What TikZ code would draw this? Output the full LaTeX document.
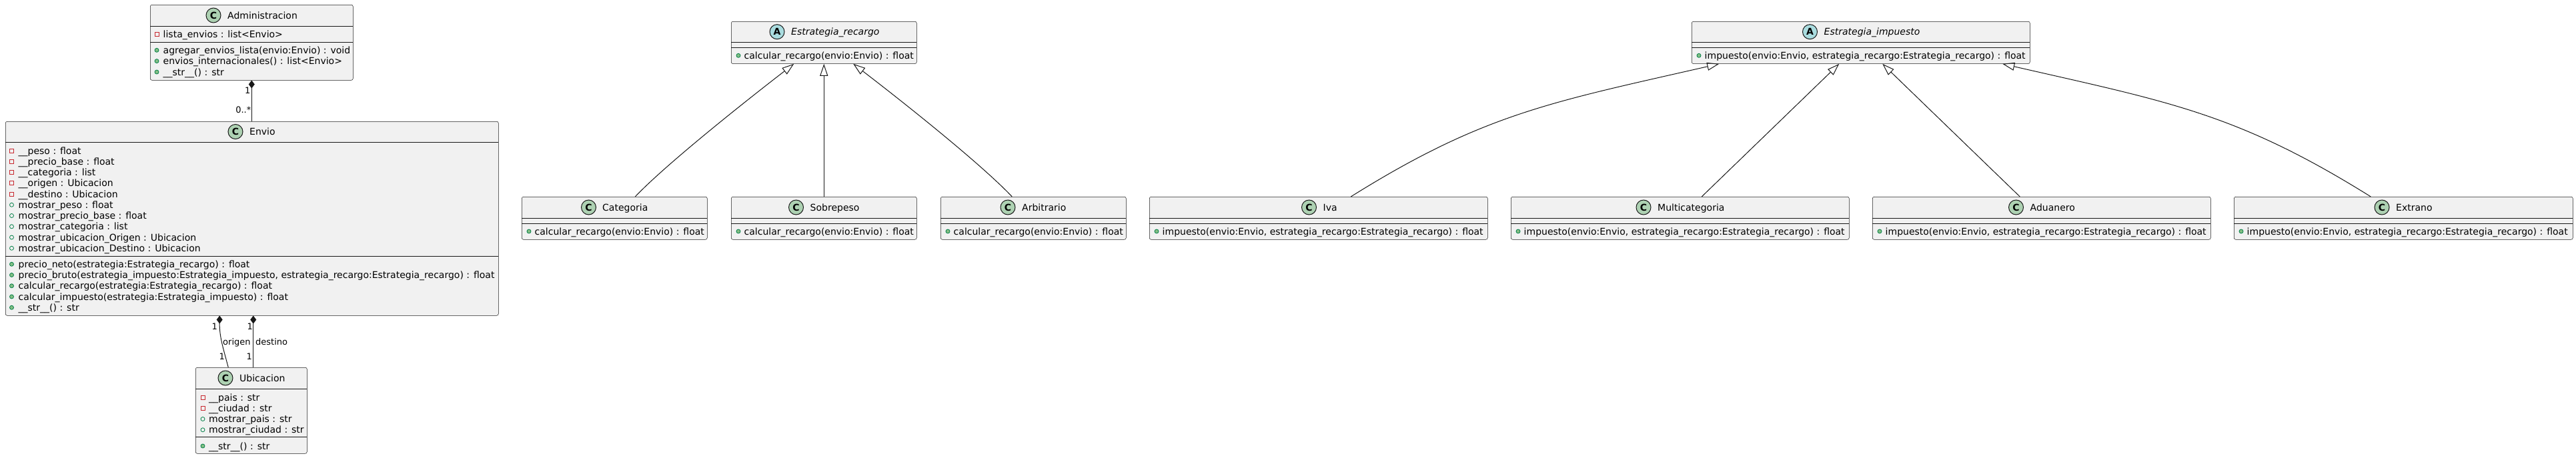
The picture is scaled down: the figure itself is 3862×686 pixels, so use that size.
\documentclass[tikz,border=0pt]{standalone}
\usepackage{fontspec}
\setmainfont{DejaVu Sans}
\usetikzlibrary{arrows.meta,calc}

\definecolor{boxfill}{HTML}{F1F1F1}
\definecolor{umlline}{HTML}{181818}
\definecolor{spotclass}{HTML}{ADD1B2}
\definecolor{spotabs}{HTML}{A9DCDF}
\definecolor{privred}{HTML}{C82930}
\definecolor{pubgreen}{HTML}{038048}
\definecolor{pubfill}{HTML}{84BE84}

\tikzset{
  classbox/.style={draw=umlline, fill=boxfill, line width=0.5pt, rounded corners=2.5pt, anchor=north west, inner sep=0pt},
  sep/.style={draw=umlline, line width=0.5pt},
  spot/.style={circle, draw=umlline, line width=1pt, minimum size=22pt, inner sep=0pt, font=\fontsize{14}{14}\selectfont\bfseries},
  spotc/.style={spot, fill=spotclass},
  spota/.style={spot, fill=spotabs},
  ttl/.style={anchor=base west, inner sep=0pt, font=\fontsize{14}{16}\selectfont},
  attl/.style={anchor=base west, inner sep=0pt, font=\fontsize{14}{16}\selectfont\itshape},
  mem/.style={anchor=base west, inner sep=0pt, font=\fontsize{14}{16}\selectfont},
  priv/.style={rectangle, draw=privred, line width=0.8pt, minimum size=6pt, inner sep=0pt},
  pubf/.style={circle, draw=pubgreen, line width=0.8pt, minimum size=6pt, inner sep=0pt},
  pubm/.style={pubf, fill=pubfill},
  comp/.style={draw=umlline, line width=1pt, {Diamond[length=12pt,width=9pt]}-},
  inh/.style={draw=umlline, line width=1pt, -{Triangle[open,length=18pt,width=12pt]}},
  lbl/.style={inner sep=0pt, font=\fontsize{13}{15}\selectfont},
}

\begin{document}
\begin{tikzpicture}[x=1pt,y=1pt,yscale=-1]
\useasboundingbox (0,0) rectangle (3862,686);

%Class Administracion
\node[classbox, minimum width=304, minimum height=113] (admin) at (225,7) {};
\draw[sep] (225,39) -- (529,39);
\draw[sep] (225,63) -- (529,63);
\node[spotc] (adminS) at (320,23) {C};
\node[ttl] (adminT) at (341,28) {Administracion};
\node[priv] (ad1i) at (235,51) {};
\node[mem] (ad1) at (244.5,56) {lista\_envios : list<Envio>};
\node[pubm] (ad2i) at (235,75.3) {};
\node[mem] (ad2) at (244.5,80.3) {agregar\_envios\_lista(envio:Envio) : void};
\node[pubm] (ad3i) at (235,91.6) {};
\node[mem] (ad3) at (244.5,96.6) {envios\_internacionales() : list<Envio>};
\node[pubm] (ad4i) at (235,108) {};
\node[mem] (ad4) at (244.5,113) {\_\_str\_\_() : str};

%Class Envio
\node[classbox, minimum width=739, minimum height=291] (envio) at (8,182) {};
\draw[sep] (8,213) -- (747,213);
\draw[sep] (8,384) -- (747,384);
\node[spotc] (envioS) at (353,197.5) {C};
\node[ttl] (envioT) at (374,202.5) {Envio};
\node[priv] (en1i) at (17.5,226) {};
\node[mem] (en1) at (27.5,231) {\_\_peso : float};
\node[priv] (en2i) at (17.5,242.3) {};
\node[mem] (en2) at (27.5,247.3) {\_\_precio\_base : float};
\node[priv] (en3i) at (17.5,258.5) {};
\node[mem] (en3) at (27.5,263.5) {\_\_categoria : list};
\node[priv] (en4i) at (17.5,274.8) {};
\node[mem] (en4) at (27.5,279.8) {\_\_origen : Ubicacion};
\node[priv] (en5i) at (17.5,291) {};
\node[mem] (en5) at (27.5,296) {\_\_destino : Ubicacion};
\node[pubf] (en6i) at (17.5,307.3) {};
\node[mem] (en6) at (27.5,312.3) {mostrar\_peso : float};
\node[pubf] (en7i) at (17.5,323.5) {};
\node[mem] (en7) at (27.5,328.5) {mostrar\_precio\_base : float};
\node[pubf] (en8i) at (17.5,339.8) {};
\node[mem] (en8) at (27.5,344.8) {mostrar\_categoria : list};
\node[pubf] (en9i) at (17.5,356) {};
\node[mem] (en9) at (27.5,361) {mostrar\_ubicacion\_Origen : Ubicacion};
\node[pubf] (en10i) at (17.5,372.3) {};
\node[mem] (en10) at (27.5,377.3) {mostrar\_ubicacion\_Destino : Ubicacion};
\node[pubm] (en11i) at (17.5,396.3) {};
\node[mem] (en11) at (27.5,401.3) {precio\_neto(estrategia:Estrategia\_recargo) : float};
\node[pubm] (en12i) at (17.5,412.5) {};
\node[mem] (en12) at (27.5,417.5) {precio\_bruto(estrategia\_impuesto:Estrategia\_impuesto, estrategia\_recargo:Estrategia\_recargo) : float};
\node[pubm] (en13i) at (17.5,428.8) {};
\node[mem] (en13) at (27.5,433.8) {calcular\_recargo(estrategia:Estrategia\_recargo) : float};
\node[pubm] (en14i) at (17.5,445) {};
\node[mem] (en14) at (27.5,450) {calcular\_impuesto(estrategia:Estrategia\_impuesto) : float};
\node[pubm] (en15i) at (17.5,461.3) {};
\node[mem] (en15) at (27.5,466.3) {\_\_str\_\_() : str};

%Class Ubicacion
\node[classbox, minimum width=167, minimum height=129] (ubic) at (293,551) {};
\draw[sep] (293,583) -- (460,583);
\draw[sep] (293,655) -- (460,655);
\node[spotc] (ubicS) at (338,567) {C};
\node[ttl] (ubicT) at (359,572) {Ubicacion};
\node[priv] (ub1i) at (304,596) {};
\node[mem] (ub1) at (313,601) {\_\_pais : str};
\node[priv] (ub2i) at (304,612.3) {};
\node[mem] (ub2) at (313,617.3) {\_\_ciudad : str};
\node[pubf] (ub3i) at (304,628.5) {};
\node[mem] (ub3) at (313,633.5) {mostrar\_pais : str};
\node[pubf] (ub4i) at (304,644.8) {};
\node[mem] (ub4) at (313,649.8) {mostrar\_ciudad : str};
\node[pubm] (ub5i) at (304,669) {};
\node[mem] (ub5) at (313,674) {\_\_str\_\_() : str};

%Abstract Estrategia_recargo
\node[classbox, minimum width=278, minimum height=63.3] (recargo) at (1096,32) {};
\draw[sep] (1096,63.3) -- (1374,63.3);
\draw[sep] (1096,71.3) -- (1374,71.3);
\node[spota] (recargoS) at (1165,47.7) {A};
\node[attl] (recargoT) at (1186,52.7) {Estrategia\_recargo};
\node[pubm] (re1i) at (1107,83.3) {};
\node[mem] (re1) at (1115.5,88.3) {calcular\_recargo(envio:Envio) : float};

%Class Categoria
\node[classbox, minimum width=278, minimum height=64] (cat) at (782,295) {};
\draw[sep] (782,327) -- (1060,327);
\draw[sep] (782,335) -- (1060,335);
\node[spotc] (catS) at (882.5,311) {C};
\node[ttl] (catT) at (903,316) {Categoria};
\node[pubm] (ca1i) at (793,347) {};
\node[mem] (ca1) at (801.5,352) {calcular\_recargo(envio:Envio) : float};

%Class Sobrepeso
\node[classbox, minimum width=278, minimum height=64] (sobre) at (1096,295) {};
\draw[sep] (1096,327) -- (1374,327);
\draw[sep] (1096,335) -- (1374,335);
\node[spotc] (sobreS) at (1193.5,311) {C};
\node[ttl] (sobreT) at (1214.5,316) {Sobrepeso};
\node[pubm] (so1i) at (1107,347) {};
\node[mem] (so1) at (1115.5,352) {calcular\_recargo(envio:Envio) : float};

%Class Arbitrario
\node[classbox, minimum width=278, minimum height=64] (arb) at (1410,295) {};
\draw[sep] (1410,327) -- (1688,327);
\draw[sep] (1410,335) -- (1688,335);
\node[spotc] (arbS) at (1511,311) {C};
\node[ttl] (arbT) at (1532,316) {Arbitrario};
\node[pubm] (ar1i) at (1421,347) {};
\node[mem] (ar1) at (1429.5,352) {calcular\_recargo(envio:Envio) : float};

%Abstract Estrategia_impuesto
\node[classbox, minimum width=507, minimum height=63.3] (impuesto) at (2536,32) {};
\draw[sep] (2536,63.3) -- (3043,63.3);
\draw[sep] (2536,71.3) -- (3043,71.3);
\node[spota] (impuestoS) at (2713.5,47.7) {A};
\node[attl] (impuestoT) at (2734.5,52.7) {Estrategia\_impuesto};
\node[pubm] (im1i) at (2547,83.3) {};
\node[mem] (im1) at (2555.5,88.3) {impuesto(envio:Envio, estrategia\_recargo:Estrategia\_recargo) : float};

%Class Iva
\node[classbox, minimum width=507, minimum height=64] (iva) at (1723,295) {};
\draw[sep] (1723,327) -- (2230,327);
\draw[sep] (1723,335) -- (2230,335);
\node[spotc] (ivaS) at (1962.5,311) {C};
\node[ttl] (ivaT) at (1983.5,316) {Iva};
\node[pubm] (iv1i) at (1734,347) {};
\node[mem] (iv1) at (1742.5,352) {impuesto(envio:Envio, estrategia\_recargo:Estrategia\_recargo) : float};

%Class Multicategoria
\node[classbox, minimum width=507, minimum height=64] (multi) at (2265,295) {};
\draw[sep] (2265,327) -- (2772,327);
\draw[sep] (2265,335) -- (2772,335);
\node[spotc] (multiS) at (2464,311) {C};
\node[ttl] (multiT) at (2485,316) {Multicategoria};
\node[pubm] (mu1i) at (2276,347) {};
\node[mem] (mu1) at (2284.5,352) {impuesto(envio:Envio, estrategia\_recargo:Estrategia\_recargo) : float};

%Class Aduanero
\node[classbox, minimum width=507, minimum height=64] (adua) at (2807,295) {};
\draw[sep] (2807,327) -- (3314,327);
\draw[sep] (2807,335) -- (3314,335);
\node[spotc] (aduaS) at (3022.5,311) {C};
\node[ttl] (aduaT) at (3043.5,316) {Aduanero};
\node[pubm] (au1i) at (2818,347) {};
\node[mem] (au1) at (2826.5,352) {impuesto(envio:Envio, estrategia\_recargo:Estrategia\_recargo) : float};

%Class Extrano
\node[classbox, minimum width=508, minimum height=64] (extr) at (3349,295) {};
\draw[sep] (3349,327) -- (3857,327);
\draw[sep] (3349,335) -- (3857,335);
\node[spotc] (extrS) at (3571,311) {C};
\node[ttl] (extrT) at (3592,316) {Extrano};
\node[pubm] (ex1i) at (3360,347) {};
\node[mem] (ex1) at (3368.5,352) {impuesto(envio:Envio, estrategia\_recargo:Estrategia\_recargo) : float};

%Composition Administracion - Envio
\draw[comp] (admin.south) -- (admin.south |- envio.north);
\node[lbl, anchor=base east] (adm1) at (375.5,140.5) {1};
\node[lbl, anchor=base east] (admN) at (376.5,169.5) {0..*};

%Composition Envio - Ubicacion
\draw[comp] ($(envio.south)+(-48.5,0)$) .. controls (329,505) and (334,520) .. ($(ubic.north)+(-34.5,0)$);
\draw[comp] ($(envio.south)+(2,0)$) -- ($(ubic.north)+(3,0)$);
\node[lbl, anchor=base east] (or1) at (326,494.7) {1};
\node[lbl, anchor=base east] (or2) at (337,539.7) {1};
\node[lbl, anchor=base west] (orL) at (334,517.5) {origen};
\node[lbl, anchor=base east] (de1) at (379,494.7) {1};
\node[lbl, anchor=base east] (de2) at (378,539.7) {1};
\node[lbl, anchor=base west] (deL) at (383,517.5) {destino};

%Generalizations Estrategia_recargo
\draw[inh] ($(cat.north)+(31,0)$) .. controls (1000,245) and (1120,150) .. ($(recargo.south)+(-45,0)$);
\draw[inh] (sobre.north) -- (recargo.south);
\draw[inh] ($(arb.north)+(-32,0)$) .. controls (1470,245) and (1350,150) .. ($(recargo.south)+(44,0)$);

%Generalizations Estrategia_impuesto
\draw[inh] ($(iva.north)+(48.5,0)$) .. controls (2225,170) and (2327,153) .. ($(impuesto.south)+(-212.5,0)$);
\draw[inh] ($(multi.north)+(32.5,0)$) -- ($(impuesto.south)+(-32.5,0)$);
\draw[inh] ($(adua.north)+(-32.5,0)$) -- ($(impuesto.south)+(32.5,0)$);
\draw[inh] ($(extr.north)+(-49,0)$) .. controls (3354,170) and (3252,153) .. ($(impuesto.south)+(212.5,0)$);

\end{tikzpicture}
\end{document}
